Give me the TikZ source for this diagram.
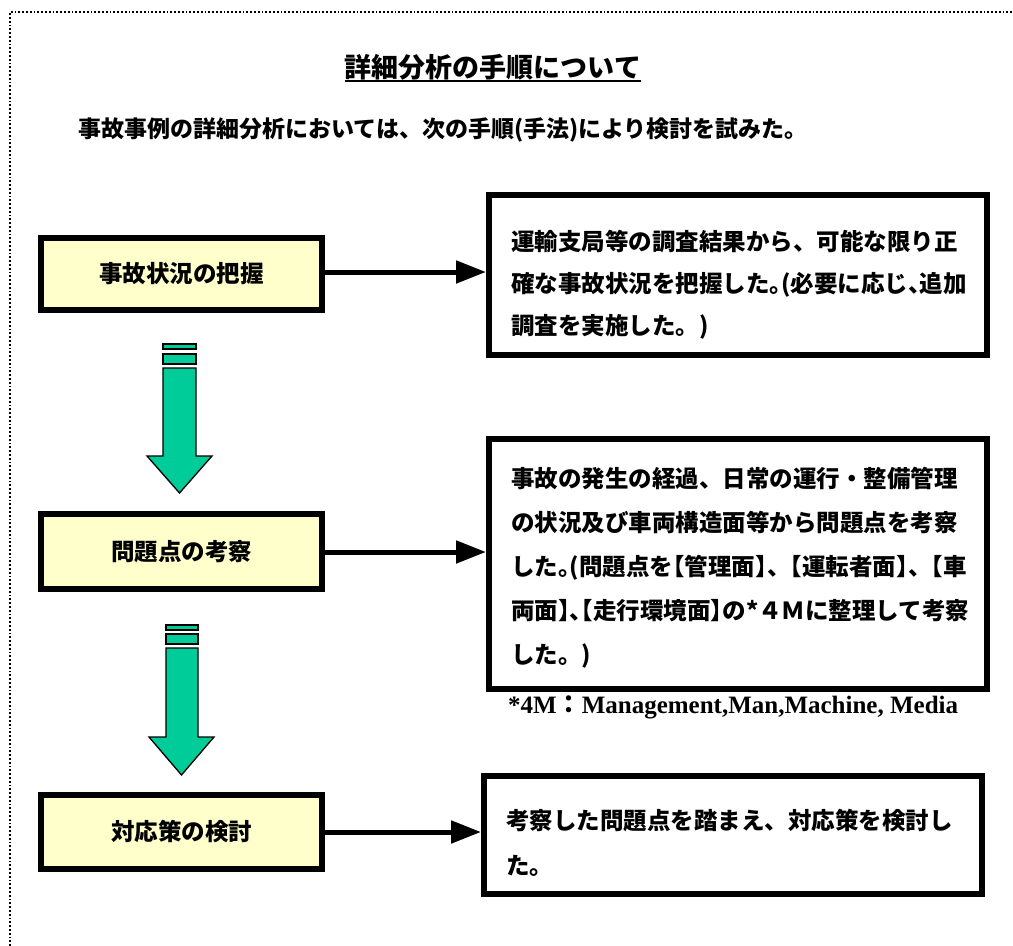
\documentclass[tikz,border=0pt]{standalone}
\usepackage{fontspec}
\newfontfamily\jp{Noto Sans CJK JP}
\newfontfamily\jph{Noto Sans CJK JP}[RawFeature=+halt]
\newfontfamily\lserif{Liberation Serif}
\usetikzlibrary{arrows.meta}
\definecolor{boxyellow}{RGB}{255,255,204}
\definecolor{arrowgreen}{RGB}{0,204,153}
\tikzset{
  stepbox/.style={draw=black, line width=6pt, fill=boxyellow, minimum width=281pt, inner sep=0pt,
    font=\jp\bfseries\fontsize{23.5}{28}\selectfont},
  notebox/.style={draw=black, line width=6pt, fill=white, minimum width=498pt, inner sep=0pt},
  notetext/.style={inner sep=0pt, text width=454pt, align=left,
    font=\jp\bfseries\fontsize{23.5}{44}\selectfont},
  flowarrow/.style={line width=5pt, -{Triangle[length=30pt,width=22pt]}},
  greenarrow/.style={draw=black, line width=1.3pt, fill=arrowgreen, line join=miter},
}
\begin{document}
\begin{tikzpicture}[x=1pt,y=-1pt]
\useasboundingbox (0,0) rectangle (1013,946);
% dotted frame
\draw[dotted, line width=1.8pt] (10,946) -- (10,12) -- (1013,12);
% title
\node[inner sep=0pt, font=\jp\bfseries\fontsize{27}{32}\selectfont] (title) at (493,67) {詳細分析の手順について};
\draw[line width=2pt] ([yshift=-1pt]title.south west) -- ([yshift=-1pt]title.south east);
\node[inner sep=0pt, anchor=west, font=\jp\bfseries\fontsize{23}{26}\selectfont] (intro) at (78,130) {事故事例の詳細分析においては、次の手順(手法)により検討を試みた。};
% left boxes
\node[stepbox, minimum height=72pt] (s1) at (181.5,274) {事故状況の把握};
\node[stepbox, minimum height=75pt] (s2) at (181.5,551.5) {問題点の考察};
\node[stepbox, minimum height=74pt] (s3) at (181.5,832) {対応策の検討};
% right boxes
\node[notebox, minimum height=160pt] (n1) at (738,275) {};
\node[notebox, minimum height=250pt] (n2) at (738,564) {};
\node[notebox, minimum height=118pt] (n3) at (733,835) {};
\node[notetext, font=\jp\bfseries\fontsize{23.5}{42}\selectfont, yshift=-10pt] (t1) at (n1.center) {運輸支局等の調査結果から、可能な限り正\\確な事故状況を把握した{\jph 。(}必要に応じ{\jph 、}追加\\調査を実施した。)};
\node[notetext, yshift=-4pt] (t2) at (n2.center) {事故の発生の経過、日常の運行・整備管理\\の状況及び車両構造面等から問題点を考察\\した{\jph 。(}問題点を{\jph 【}管理面{\jph 】}、{\jph 【}運転者面{\jph 】}、{\jph 【}車\\両面{\jph 】、【}走行環境面{\jph 】}の*４Ｍに整理して考察\\した。)};
\node[notetext, font=\jp\bfseries\fontsize{23.5}{45}\selectfont, yshift=-8pt] (t3) at (n3.center) {考察した問題点を踏まえ、対応策を検討し\\た。};
\node[inner sep=0pt, anchor=west, font=\bfseries\fontsize{25}{30}\selectfont] (foot) at (508,707) {\lserif *4M{\jp ：}Management,Man,Machine, Media};
% horizontal arrows
\draw[flowarrow] (s1.east |- 0,272) -- (n1.west |- 0,272);
\draw[flowarrow] (s2.east |- 0,552) -- (n2.west |- 0,552);
\draw[flowarrow] (s3.east |- 0,832) -- (n3.west |- 0,832);
% green block arrows
\draw[greenarrow] (163,344) rectangle (196,349);
\draw[greenarrow] (163,354) rectangle (196,364);
\draw[greenarrow] (163,368) -- (196,368) -- (196,456) -- (212,456) -- (179.5,493) -- (147,456) -- (163,456) -- cycle;
\draw[greenarrow] (166,625) rectangle (198,630);
\draw[greenarrow] (166,634) rectangle (198,644);
\draw[greenarrow] (166,648) -- (198,648) -- (198,737) -- (214,737) -- (181.5,775) -- (149,737) -- (166,737) -- cycle;
\end{tikzpicture}
\end{document}
